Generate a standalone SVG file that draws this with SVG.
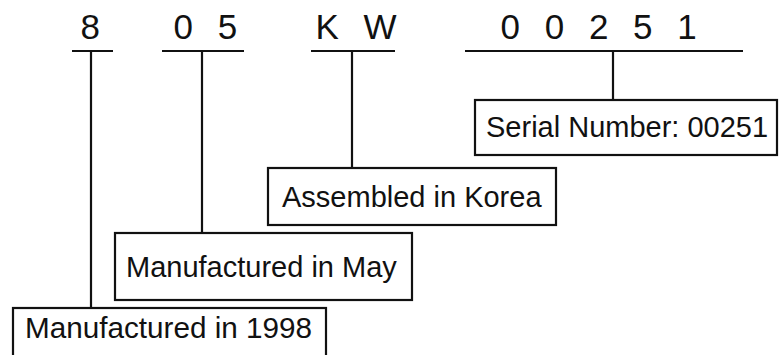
<svg xmlns="http://www.w3.org/2000/svg" width="779" height="355" viewBox="0 0 779 355">
<style>
.code{font-family:"Liberation Sans",Arial,sans-serif;font-size:35px;fill:#111;letter-spacing:7.5px}
.lbl{font-family:"Liberation Sans",Arial,sans-serif;font-size:29px;fill:#111}
.box{fill:#fff;stroke:#111;stroke-width:2.2}
.ln{stroke:#111;stroke-width:2.2;fill:none}
</style>
<rect width="779" height="355" fill="#fff"/>
<g id="codes">
<text class="code" x="80.5" y="39">8</text>
<text class="code" x="173.5" y="39">0 5</text>
<text class="code" x="315.5" y="39">K W</text>
<text class="code" x="500.5" y="39">0 0 2 5 1</text>
</g>
<g id="connectors">
<line class="ln" x1="72" y1="51" x2="113" y2="51"/>
<line class="ln" x1="162" y1="51" x2="244" y2="51"/>
<line class="ln" x1="311" y1="51" x2="395" y2="51"/>
<line class="ln" x1="465" y1="51" x2="743" y2="51"/>
<line class="ln" x1="91" y1="51" x2="91" y2="308"/>
<line class="ln" x1="202" y1="51" x2="202" y2="233"/>
<line class="ln" x1="352" y1="51" x2="352" y2="168"/>
<line class="ln" x1="613" y1="51" x2="613" y2="100"/>
</g>
<g id="serial">
<rect class="box" x="475" y="100" width="302" height="55"/>
<text class="lbl" x="486" y="137">Serial Number: 00251</text>
</g>
<g id="korea">
<rect class="box" x="268" y="168" width="288" height="57"/>
<text class="lbl" x="282" y="207">Assembled in Korea</text>
</g>
<g id="may">
<rect class="box" x="115" y="233" width="297" height="67"/>
<text class="lbl" x="126" y="277">Manufactured in May</text>
</g>
<g id="year">
<rect class="box" x="13" y="308" width="313" height="60"/>
<text class="lbl" x="25" y="338" textLength="287" lengthAdjust="spacingAndGlyphs">Manufactured in 1998</text>
</g>
</svg>
